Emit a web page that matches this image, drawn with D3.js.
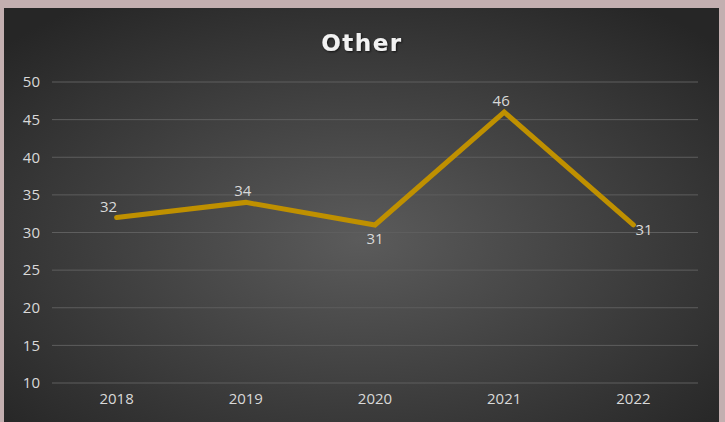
<!DOCTYPE html>
<html>
<head>
<meta charset="utf-8">
<script src="https://cdn.jsdelivr.net/npm/d3@7"></script>
<style>
  body { margin: 0; background: #c3afb0; }
  svg { display: block; }
</style>
</head>
<body>
<div id="chart"></div>
<script>
// data
const years = ["2018", "2019", "2020", "2021", "2022"];
const values = [32, 34, 31, 46, 31];
const yTicks = [10, 15, 20, 25, 30, 35, 40, 45, 50];
const labelPos = ["left", "above", "below", "above", "right"];

const W = 725, H = 422;
const panel = { x: 4, y: 8, w: 715, h: 420 };
const margin = { top: 82, right: 27, bottom: 39, left: 52 };
const width = W - margin.left - margin.right,
      height = H - margin.top - margin.bottom;
const font = "'Open Sans', 'Noto Sans', sans-serif";

const svg = d3.select("#chart").append("svg")
    .attr("width", W)
    .attr("height", H);

const defs = svg.append("defs");
const grad = defs.append("radialGradient")
    .attr("id", "bg")
    .attr("cx", "50%").attr("cy", "55%").attr("r", "68%");
grad.append("stop").attr("offset", "0%").attr("stop-color", "#5b5b5b");
grad.append("stop").attr("offset", "100%").attr("stop-color", "#262626");

const shadow = defs.append("filter").attr("id", "shadow")
    .attr("x", "-10%").attr("y", "-20%").attr("width", "130%").attr("height", "150%");
shadow.append("feDropShadow")
    .attr("dx", 1).attr("dy", 1).attr("stdDeviation", 1)
    .attr("flood-color", "#000").attr("flood-opacity", 0.7);

svg.append("rect")
    .attr("x", panel.x).attr("y", panel.y)
    .attr("width", panel.w).attr("height", panel.h)
    .attr("fill", "url(#bg)");

const g = svg.append("g")
    .attr("transform", `translate(${margin.left},${margin.top})`);

const x = d3.scaleBand().domain(years).range([0, width]);
const y = d3.scaleLinear().domain([10, 50]).range([height, 0]);

// gridlines
g.selectAll(".grid")
    .data(yTicks)
    .enter().append("line")
    .attr("x1", 0).attr("x2", width)
    .attr("y1", d => y(d)).attr("y2", d => y(d))
    .attr("stroke", "#5e5e5e")
    .attr("stroke-width", 1);

// y axis
const yAxis = g.append("g")
    .call(d3.axisLeft(y).tickValues(yTicks).tickSize(0).tickPadding(12));
yAxis.select(".domain").remove();
yAxis.selectAll("text")
    .style("font-family", font)
    .style("font-size", "15px")
    .attr("fill", "#d9d9d9");

// x axis
const xAxis = g.append("g")
    .attr("transform", `translate(0,${height})`)
    .call(d3.axisBottom(x).tickSize(0).tickPadding(10));
xAxis.select(".domain").remove();
xAxis.selectAll("text")
    .style("font-family", font)
    .style("font-size", "15px")
    .attr("fill", "#d9d9d9");

// line
const cx = d => x(d) + x.bandwidth() / 2;
const line = d3.line()
    .x((d, i) => cx(years[i]))
    .y(d => y(d));

g.append("path")
    .datum(values)
    .attr("d", line)
    .attr("fill", "none")
    .attr("stroke", "#bf9000")
    .attr("stroke-width", 5)
    .attr("stroke-linejoin", "miter")
    .attr("stroke-linecap", "round");

// data labels
const off = {
    left: { dx: -8, dy: -5, anchor: "middle" },
    above: { dx: -3, dy: -6, anchor: "middle" },
    below: { dx: 0, dy: 19, anchor: "middle" },
    right: { dx: 2, dy: 10, anchor: "start" }
};
g.selectAll(".lbl")
    .data(values)
    .enter().append("text")
    .attr("x", (d, i) => cx(years[i]) + off[labelPos[i]].dx)
    .attr("y", (d, i) => y(d) + off[labelPos[i]].dy)
    .attr("text-anchor", (d, i) => off[labelPos[i]].anchor)
    .style("font-family", font)
    .style("font-size", "15px")
    .attr("fill", "#d9d9d9")
    .text(d => d);

// title
svg.append("text")
    .attr("x", 362)
    .attr("y", 51)
    .attr("text-anchor", "middle")
    .style("font-family", "'DejaVu Sans', sans-serif")
    .style("font-size", "23px")
    .style("font-weight", "bold")
    .style("letter-spacing", "1.5px")
    .attr("fill", "#f2f2f2")
    .attr("filter", "url(#shadow)")
    .text("Other");
</script>
</body>
</html>
